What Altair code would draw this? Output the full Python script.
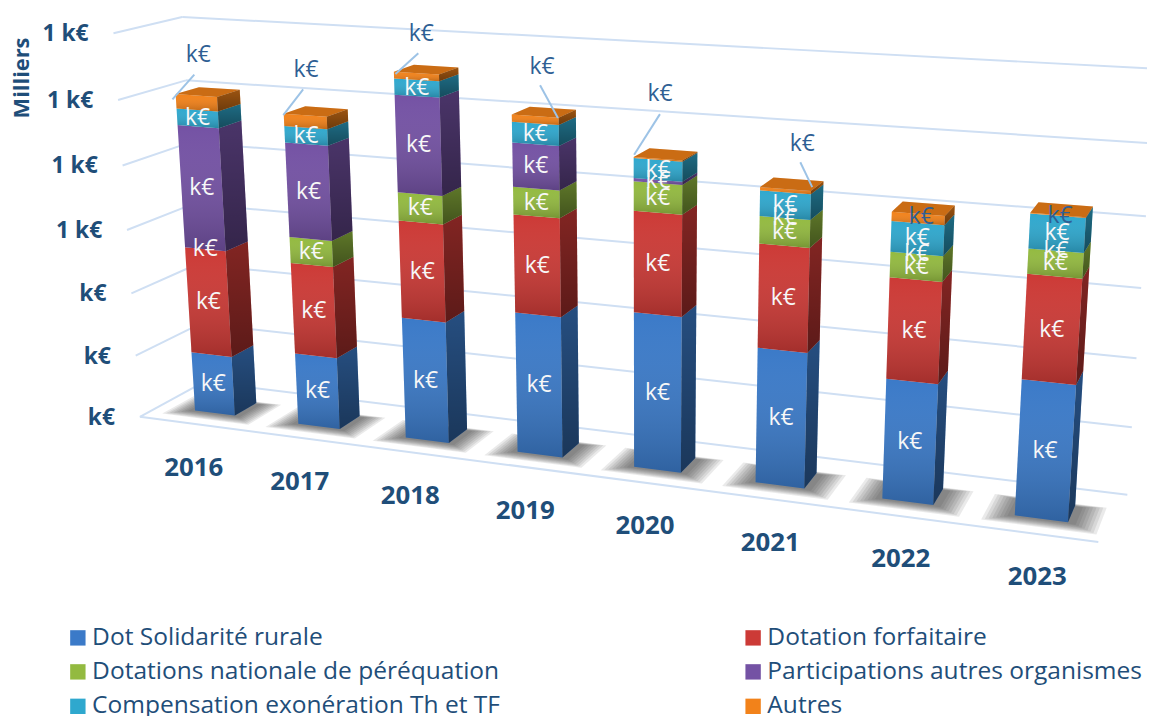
import altair as alt
import numpy as np
import pandas as pd

years = ["2016", "2017", "2018", "2019", "2020", "2021", "2022", "2023"]
series = ["Dot Solidarité rurale", "Dotation forfaitaire", "Dotations nationale de péréquation",
          "Participations autres organismes", "Compensation exonération Th et TF", "Autres"]
colors = ["#3b7ac8", "#cc3a36", "#93ba40", "#7452a4", "#2fa8ce", "#f2821a"]

solidarite = [192, 227, 377, 430, 467, 400, 350, 389]
forfaitaire = [338, 286, 298, 293, 296, 300, 288, 292]
perequation = [0, 81, 85, 81, 85, 78, 71, 69]
participations = [382, 289, 289, 129, 9, 0, 0, 0]
compensation = [51, 50, 47, 60, 57, 72, 85, 94]
autres = [44, 37, 20, 21, 3, 9, 25, 2]
values = [solidarite, forfaitaire, perequation, participations, compensation, autres]

axis_labels = ["k€", "k€", "k€", "1 k€", "1 k€", "1 k€", "1 k€"]
AXIS_STEP = 200

# camera of the 3D scene, fitted on the corners of the chart's box (u: category, v: depth, h: level)
W, H = 1147, 708
box = []
for h, (x, y) in enumerate(zip([141, 136, 132, 128, 123, 119, 115], [417, 356, 293, 229, 164, 98, 31])):
    box.append((0, 0, h, x, y))
for h, (x, y) in enumerate(zip([1125, 1128, 1133, 1138, 1143, 1148, 1152], [495, 426, 357, 287, 214, 140, 67])):
    box.append((8, 1, h, x, y))
box += [(0, 1, 6, 183, 15), (0, 1, 5, 187, 78), (0, 1, 0, 206, 382), (8, 0, 0, 1106, 543)]
A, b = [], []
for U, V, Z, x, y in box:
    A.append([U, V, Z, 1, 0, 0, 0, 0, -x * U, -x * V, -x * Z]); b.append(x)
    A.append([0, 0, 0, 0, U, V, Z, 1, -y * U, -y * V, -y * Z]); b.append(y)
p = np.linalg.lstsq(np.array(A, float), np.array(b, float), rcond=None)[0]


def proj(u, v, h):
    w = p[8] * u + p[9] * v + p[10] * h + 1
    return [float((p[0] * u + p[1] * v + p[2] * h + p[3]) / w - 8),
            float((p[4] * u + p[5] * v + p[6] * h + p[7]) / w - 8)]


HW, V0, V1, UC = 0.195, 0.30, 0.65, 0.545


def feature(pts, **props):
    ring = pts + [pts[0]]
    return {"type": "Feature", "properties": props,
            "geometry": {"type": "Polygon", "coordinates": [ring]}}


faces, fronts, sides, tops, labels = [], [], [], [], []
leaders, callouts, shadows = [], [], []
call_offsets = [(2, -41, -24, 4, -2, -21), (1, -45, -22, 0, -2, -26), (5, -39, -21, 1, 2, -20),
                (7, -49, 23, 2, 5, -31), (2, -65, -24, -4, 2, -45), (17, -45, 27, -2, 15, -27),
                (3, 3, None, None, None, None), (2, 1, None, None, None, None)]
for i, year in enumerate(years):
    u0, u1 = i + UC - HW, i + UC + HW
    for k in range(8):
        grow = k * 0.024
        su0, su1 = u0 - 0.05 - grow, u1 + 0.06 + grow
        sv0, sv1 = V0 - 0.03 - grow * 0.8, V1 - 0.02 + grow * 0.3
        shadows.append(feature([proj(su0, sv0, 0), proj(su1, sv0, 0), proj(su1, sv1, 0), proj(su0, sv1, 0)]))
    cum = 0.0
    for s, name in enumerate(series):
        h0, h1 = cum / AXIS_STEP, (cum + values[s][i]) / AXIS_STEP
        cum += values[s][i]
        front = [proj(u0, V0, h0), proj(u1, V0, h0), proj(u1, V0, h1), proj(u0, V0, h1)]
        side = [proj(u1, V0, h0), proj(u1, V1, h0), proj(u1, V1, h1), proj(u1, V0, h1)]
        if values[s][i] > 0:
            faces.append(feature(front, series=name))
            faces.append(feature(side, series=name))
            fronts.append(feature(front))
            sides.append(feature(side))
        cx, cy = proj(i + UC, V0, (h0 + h1) / 2)
        if s < len(series) - 1:
            labels.append({"x": cx, "y": cy, "t": "k€"})
    top = [proj(u0, V0, h1), proj(u1, V0, h1), proj(u1, V1, h1), proj(u0, V1, h1)]
    faces.append(feature(top, series=series[-1]))
    tops.append(feature(top))
    tx, ty = proj(i + UC, V0, h1)
    lx, ly, a, b_, c, d = call_offsets[i]
    callouts.append({"x": tx + lx, "y": ty + ly, "t": "k€"})
    if a is not None:
        leaders.append({"x": tx + a, "y": ty + b_, "x2": tx + c, "y2": ty + d})

grid = []
for lvl in range(len(axis_labels)):
    a_, b2, c_ = proj(0, 0, lvl), proj(0, 1, lvl), proj(8.08, 1, lvl)
    grid.append({"x": a_[0], "y": a_[1], "x2": b2[0], "y2": b2[1]})
    grid.append({"x": b2[0], "y": b2[1], "x2": c_[0], "y2": c_[1]})
f0, f1 = proj(0, 0, 0), proj(8, 0, 0)
grid.append({"x": f0[0], "y": f0[1], "x2": f1[0], "y2": f1[1]})

axis_df = pd.DataFrame([{"x": proj(0, 0, l)[0] - 25, "y": proj(0, 0, l)[1] + 1, "t": t} for l, t in enumerate(axis_labels)])
year_rows = []
for i, y in enumerate(years):
    px, py = proj(i + UC, 0, 0)
    year_rows.append({"x": px - 2 + 0.7 * i, "y": py + 44, "t": y})
year_df = pd.DataFrame(year_rows)

X = alt.Scale(domain=[0, W], range=[0, W])
Y = alt.Scale(domain=[0, H], range=[0, H])
xe = alt.X("x:Q", scale=X, axis=None)
ye = alt.Y("y:Q", scale=Y, axis=None)
FONT = "Open Sans"
INK = "#1f4e79"


def grad(c0, c1):
    return alt.LinearGradient(gradient="linear", x1=0, x2=0, y1=0, y2=1,
                              stops=[alt.GradientStop(color=c0, offset=0), alt.GradientStop(color=c1, offset=1)])


ID = dict(type="identity", scale=1, translate=[0, 0])
rules = alt.Chart(pd.DataFrame(grid)).mark_rule(color="#cfdff3", strokeWidth=2).encode(x=xe, y=ye, x2="x2:Q", y2="y2:Q")
shadow = alt.Chart(alt.Data(values=shadows)).mark_geoshape(fill="#333333", fillOpacity=0.1).project(**ID)
base = alt.Chart(alt.Data(values=faces)).mark_geoshape().encode(
    color=alt.Color("properties.series:N", sort=series,
                    scale=alt.Scale(domain=series, range=colors),
                    legend=alt.Legend(title=None, orient="none", legendX=58, legendY=619, direction="horizontal",
                                      columns=2, columnPadding=242, rowPadding=8.7, symbolType="square", symbolSize=240,
                                      symbolStrokeWidth=0, labelFont=FONT, labelFontSize=24.7, labelColor=INK, labelLimit=500,
                                      labelOffset=2))
).project(**ID)
front_ov = alt.Chart(alt.Data(values=fronts)).mark_geoshape(
    fill=grad("rgba(255,255,255,0)", "rgba(0,0,0,0.2)")).project(**ID)
side_ov = alt.Chart(alt.Data(values=sides)).mark_geoshape(
    fill=grad("rgba(0,0,0,0.36)", "rgba(0,0,0,0.55)")).project(**ID)
top_ov = alt.Chart(alt.Data(values=tops)).mark_geoshape(fill="rgba(60,30,0,0.22)").project(**ID)
lead = alt.Chart(pd.DataFrame(leaders)).mark_rule(color="#9dc3e6", strokeWidth=2).encode(x=xe, y=ye, x2="x2:Q", y2="y2:Q")
white = alt.Chart(pd.DataFrame(labels)).mark_text(font=FONT, fontSize=23, color="#f7f7f7").encode(x=xe, y=ye, text="t:N")
call = alt.Chart(pd.DataFrame(callouts)).mark_text(font=FONT, fontSize=23, color="#2f5f94").encode(x=xe, y=ye, text="t:N")
ax = alt.Chart(axis_df).mark_text(font=FONT, fontSize=23, fontWeight="bold", color=INK, align="right").encode(x=xe, y=ye, text="t:N")
yr = alt.Chart(year_df).mark_text(font=FONT, fontSize=26, fontWeight="bold", color=INK).encode(x=xe, y=ye, text="t:N")
title = alt.Chart(pd.DataFrame([{"x": 14, "y": 68, "t": "Milliers"}])).mark_text(
    font=FONT, fontSize=22, fontWeight="bold", color=INK, angle=270).encode(x=xe, y=ye, text="t:N")

chart = alt.layer(rules, shadow, base, front_ov, side_ov, top_ov, lead, white, call, ax, yr, title).properties(
    width=W, height=H, padding=0, autosize=alt.AutoSizeParams(type="none"), background="white"
).configure_view(stroke=None)

chart.save("out.html", embed_options={"renderer": "svg", "actions": False})
